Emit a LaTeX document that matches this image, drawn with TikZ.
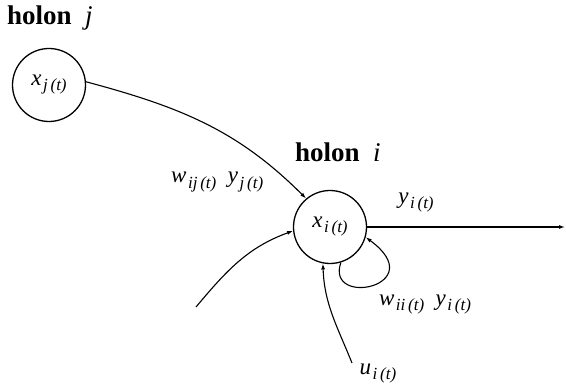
\documentclass[tikz,border=0pt]{standalone}
\usepackage{fontspec}
\setmainfont{Liberation Serif}
\usetikzlibrary{arrows.meta}
\newcommand{\lab}[2]{\textit{#1}\raisebox{-0.22em}{\fontsize{17}{19}\selectfont\itshape\kern1.5pt #2}}
\tikzset{
  holon/.style={draw, circle, line width=1.3pt, inner sep=0pt, minimum size=73pt, font=\fontsize{23}{26}\selectfont},
  conn/.style={line width=1.1pt, -{Latex[length=6pt,width=4pt]}},
  title/.style={font=\fontsize{27}{30}\selectfont\bfseries, inner sep=0pt, anchor=base west},
  lbl/.style={font=\fontsize{23}{26}\selectfont, inner sep=0pt}
}
\begin{document}
\begin{tikzpicture}[x=1pt,y=1pt]
\useasboundingbox (0,0) rectangle (566,386);
\node[holon] (cj) at (49,301) {\lab{x}{j\,(t)}};
\node[holon] (ci) at (330,159) {\lab{x}{i\,(t)}};
\node[title] (hj) at (7,361) {holon \ \textit{\mdseries j}};
\node[title] (hi) at (295,224) {holon \ \textit{\mdseries i}};
\coordinate (outend) at (565,159);
\coordinate (leftin) at (196,79);
\coordinate (botin) at (352,23);
\draw[conn] (cj.5) to[out=-15,in=135] (ci.130);
\draw[conn] (ci.0) -- (outend);
\draw[conn] (ci.-73) .. controls (325,78) and (432,100) .. (ci.-16);
\draw[conn] (leftin) to[out=50,in=200] (ci.186);
\draw[conn] (botin) to[out=112,in=-88] (ci.-101);
\node[lbl, anchor=base west] (wij) at (171,203) {\lab{w}{ij\,(t)}\ \ \lab{y}{j\,(t)}};
\node[lbl] (yi) at (416,183) {\lab{y}{i\,(t)}};
\node[lbl] (wii) at (425,81) {\lab{w}{ii\,(t)}\ \ \lab{y}{i\,(t)}};
\node[lbl] (ui) at (378,12) {\lab{u}{i\,(t)}};
\end{tikzpicture}
\end{document}
